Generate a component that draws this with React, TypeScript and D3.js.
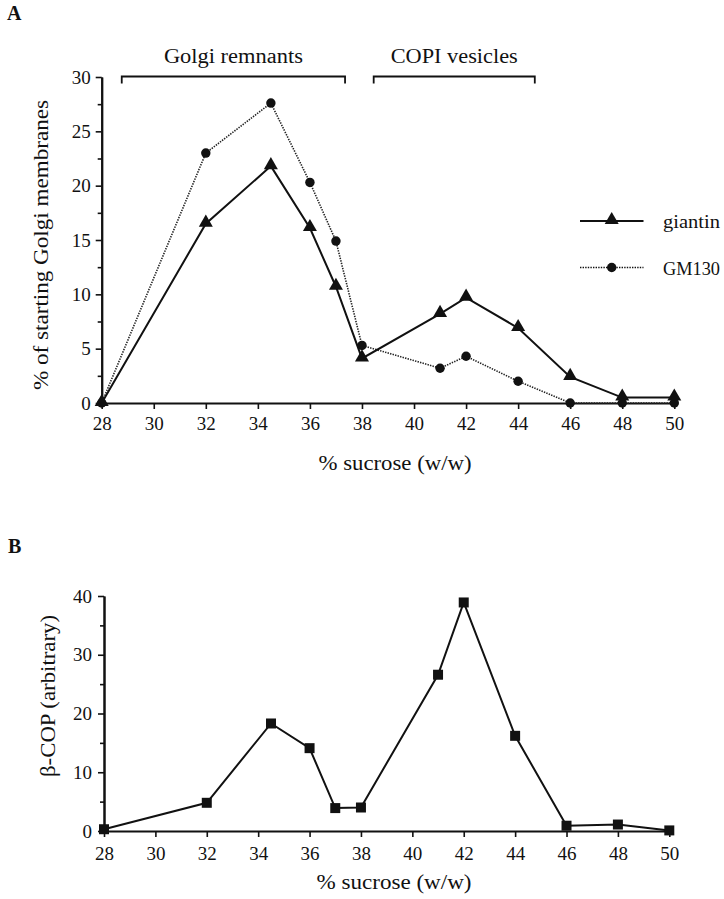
import React, { useEffect, useRef } from "react";
import * as d3 from "d3";

const sucroseA = [28, 32, 34.5, 36, 37, 38, 41, 42, 44, 46, 48, 50];
const giantin = [0, 16.5, 21.8, 16.1, 10.7, 4.1, 8.2, 9.7, 6.9, 2.4, 0.5, 0.5];
const gm130 = [0, 23.0, 27.6, 20.3, 14.9, 5.3, 3.2, 4.3, 2.0, 0, 0, 0];

const sucroseB = [28, 32, 34.5, 36, 37, 38, 41, 42, 44, 46, 48, 50];
const betaCOP = [0.3, 4.8, 18.3, 14.1, 3.9, 4.0, 26.6, 38.9, 16.2, 0.9, 1.1, 0.1];

const xTicks = [28, 30, 32, 34, 36, 38, 40, 42, 44, 46, 48, 50];
const yTicksA = [0, 5, 10, 15, 20, 25, 30];
const yMinorA = [2.5, 7.5, 12.5, 17.5, 22.5, 27.5];
const yTicksB = [0, 10, 20, 30, 40];
const yMinorB = [5, 15, 25, 35];

const brackets = [
  { label: "Golgi remnants", from: 28.77, to: 37.35, w: 139 },
  { label: "COPI vesicles", from: 38.45, to: 44.64, w: 127 },
];

const FONT = "'Liberation Serif', 'Times New Roman', serif";

export default function App() {
  const ref = useRef<SVGSVGElement>(null);

  useEffect(() => {
    const svg = d3.select(ref.current);
    svg.selectAll("*").remove();

    const styleAxis = (g: any) => {
      g.selectAll("path.domain").attr("stroke", "#111").attr("stroke-width", 2);
      g.selectAll(".tick line").attr("stroke", "#111").attr("stroke-width", 1.6);
      g.selectAll("text")
        .attr("font-family", FONT)
        .attr("font-size", 19)
        .attr("fill", "#111");
    };

    const addText = (g: any, x: number, y: number, s: string, len: number | null, anchor = "middle", rot = false, size = 20) => {
      const t = g.append("text")
        .attr("text-anchor", anchor)
        .attr("font-family", FONT)
        .attr("font-size", size)
        .attr("fill", "#111")
        .text(s);
      if (rot) t.attr("transform", `translate(${x},${y}) rotate(-90)`);
      else t.attr("x", x).attr("y", y);
      if (len) t.attr("textLength", len).attr("lengthAdjust", "spacingAndGlyphs");
      return t;
    };

    // ---------- Panel A ----------
    const xA = d3.scaleLinear().domain([28, 50]).range([101.7, 674.3]);
    const yA = d3.scaleLinear().domain([0, 30]).range([403, 77]);
    const gA = svg.append("g");

    gA.append("g")
      .attr("transform", `translate(0,${yA(0)})`)
      .call(d3.axisBottom(xA).tickValues(xTicks).tickFormat(d3.format("d")).tickSize(6).tickSizeOuter(0).tickPadding(8))
      .call(styleAxis);
    gA.append("g")
      .attr("transform", `translate(${xA(28)},0)`)
      .call(d3.axisLeft(yA).tickValues(yTicksA).tickFormat(d3.format("d")).tickSize(6).tickSizeOuter(0).tickPadding(5))
      .call(styleAxis);
    gA.append("g")
      .attr("transform", `translate(${xA(28)},0)`)
      .call(d3.axisLeft(yA).tickValues(yMinorA).tickFormat(() => "").tickSize(4).tickSizeOuter(0))
      .call(styleAxis);

    const lineA = d3
      .line<number>()
      .x((_, i) => xA(sucroseA[i]))
      .y((d) => yA(d));

    gA.append("path")
      .attr("d", lineA(gm130))
      .attr("fill", "none")
      .attr("stroke", "#222")
      .attr("stroke-width", 1.6)
      .attr("stroke-dasharray", "1.4,1.2");
    gA.append("path")
      .attr("d", lineA(giantin))
      .attr("fill", "none")
      .attr("stroke", "#111")
      .attr("stroke-width", 2);

    const circle = d3.symbol().type(d3.symbolCircle).size(70);
    const tri = d3.symbol().type(d3.symbolTriangle).size(85);
    gA.selectAll(".c")
      .data(gm130)
      .join("path")
      .attr("d", circle())
      .attr("transform", (d, i) => `translate(${xA(sucroseA[i])},${yA(d)})`)
      .attr("fill", "#111");
    gA.selectAll(".t")
      .data(giantin)
      .join("path")
      .attr("d", tri())
      .attr("transform", (d, i) => `translate(${xA(sucroseA[i])},${yA(d) - 1})`)
      .attr("fill", "#111");

    // brackets
    brackets.forEach((b) => {
      const x0 = xA(b.from);
      const x1 = xA(b.to);
      gA.append("path")
        .attr("d", `M${x0},83.5V76.5H${x1}V83.5`)
        .attr("fill", "none")
        .attr("stroke", "#111")
        .attr("stroke-width", 1.8);
      addText(gA, (x0 + x1) / 2, 62.5, b.label, b.w);
    });

    // legend
    const legend = [
      { label: "giantin", y: 221, dash: null, sym: tri, w: 2, off: -1, len: 57 },
      { label: "GM130", y: 267.5, dash: "1.4,1.2", sym: circle, w: 1.6, off: 0, len: 57 },
    ];
    legend.forEach((l) => {
      const line = gA.append("line")
        .attr("x1", 580)
        .attr("x2", 643.5)
        .attr("y1", l.y)
        .attr("y2", l.y)
        .attr("stroke", "#111")
        .attr("stroke-width", l.w);
      if (l.dash) line.attr("stroke-dasharray", l.dash);
      gA.append("path")
        .attr("d", l.sym())
        .attr("transform", `translate(611.7,${l.y + l.off})`)
        .attr("fill", "#111");
      addText(gA, 663, l.y + 7, l.label, l.len, "start", false, 18.5);
    });

    addText(gA, 395, 470, "% sucrose (w/w)", 153);
    addText(gA, 48, 245, "% of starting Golgi membranes", 290, "middle", true);

    svg.append("text")
      .attr("x", 7)
      .attr("y", 20)
      .attr("font-family", FONT)
      .attr("font-size", 20)
      .attr("font-weight", "bold")
      .attr("fill", "#111")
      .text("A");

    // ---------- Panel B ----------
    const xB = d3.scaleLinear().domain([28, 50]).range([104, 669.3]);
    const yB = d3.scaleLinear().domain([0, 40]).range([831, 596]);
    const gB = svg.append("g");

    gB.append("g")
      .attr("transform", `translate(0,${yB(0)})`)
      .call(d3.axisBottom(xB).tickValues(xTicks).tickFormat(d3.format("d")).tickSize(6).tickSizeOuter(0).tickPadding(10))
      .call(styleAxis);
    gB.append("g")
      .attr("transform", `translate(${xB(28)},0)`)
      .call(d3.axisLeft(yB).tickValues(yTicksB).tickFormat(d3.format("d")).tickSize(6).tickSizeOuter(0).tickPadding(6))
      .call(styleAxis);
    gB.append("g")
      .attr("transform", `translate(${xB(28)},0)`)
      .call(d3.axisLeft(yB).tickValues(yMinorB).tickFormat(() => "").tickSize(4).tickSizeOuter(0))
      .call(styleAxis);

    const lineB = d3
      .line<number>()
      .x((_, i) => xB(sucroseB[i]))
      .y((d) => yB(d));
    gB.append("path")
      .attr("d", lineB(betaCOP))
      .attr("fill", "none")
      .attr("stroke", "#111")
      .attr("stroke-width", 2);
    const sq = d3.symbol().type(d3.symbolSquare).size(100);
    gB.selectAll(".s")
      .data(betaCOP)
      .join("path")
      .attr("d", sq())
      .attr("transform", (d, i) => `translate(${xB(sucroseB[i])},${yB(d)})`)
      .attr("fill", "#111");

    addText(gB, 394, 889, "% sucrose (w/w)", 155);
    addText(gB, 55, 696, "β-COP (arbitrary)", 162, "middle", true);

    svg.append("text")
      .attr("x", 8)
      .attr("y", 553)
      .attr("font-family", FONT)
      .attr("font-size", 20)
      .attr("font-weight", "bold")
      .attr("fill", "#111")
      .text("B");
  }, []);

  return (
    <svg
      ref={ref}
      width={724}
      height={899}
      style={{ position: "absolute", left: 0, top: 0, background: "#fff" }}
    />
  );
}
